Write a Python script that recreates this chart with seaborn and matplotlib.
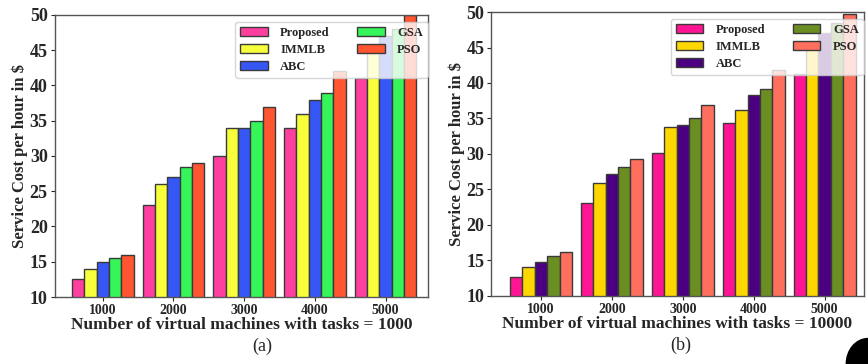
import matplotlib
matplotlib.use("Agg")
import matplotlib.pyplot as plt
import seaborn as sns
import pandas as pd
from matplotlib.patches import Ellipse

# ---- data ----
vms = ["1000", "2000", "3000", "4000", "5000"]
algos = ["Proposed", "IMMLB", "ABC", "GSA", "PSO"]

a_proposed = [12.5, 23.0, 30.0, 34.0, 41.0]
a_immlb = [14.0, 26.0, 34.0, 36.0, 44.8]
a_abc = [15.0, 27.0, 34.0, 38.0, 47.0]
a_gsa = [15.5, 28.4, 35.0, 39.0, 48.0]
a_pso = [16.0, 29.0, 37.0, 42.0, 50.0]

b_proposed = [12.7, 23.1, 30.2, 34.3, 41.2]
b_immlb = [14.1, 25.9, 33.8, 36.2, 44.9]
b_abc = [14.8, 27.2, 34.1, 38.3, 47.1]
b_gsa = [15.6, 28.2, 35.1, 39.1, 48.4]
b_pso = [16.2, 29.3, 36.9, 41.8, 49.7]

colors_a = ["#FF3FA0", "#F6FF3A", "#3657F5", "#35F55A", "#FF5530"]
colors_b = ["#FF1493", "#FFD700", "#4B0082", "#6B8E23", "#FF6F5E"]

xlabels = ["Number of virtual machines with tasks = 1000",
           "Number of virtual machines with tasks = 10000"]
panel_labels = ["(a)", "(b)"]


def long_df(series):
    rows = []
    for algo, vals in zip(algos, series):
        for vm, v in zip(vms, vals):
            rows.append({"vm": vm, "algo": algo, "cost": v})
    return pd.DataFrame(rows)


sns.set_style("ticks")
plt.rcParams["font.family"] = ["Liberation Serif", "DejaVu Serif"]
plt.rcParams["font.weight"] = "bold"

fig = plt.figure(figsize=(8.68, 3.64), dpi=100)
ax1 = fig.add_axes([0.063, 0.184, 0.430, 0.775])
ax2 = fig.add_axes([0.566, 0.187, 0.429, 0.780])

configs = [
    (ax1, [a_proposed, a_immlb, a_abc, a_gsa, a_pso], colors_a, (-0.68, 4.6), 0.555),
    (ax2, [b_proposed, b_immlb, b_abc, b_gsa, b_pso], colors_b, (-0.70, 4.55), 0.51),
]

for i, (ax, series, cols, xl, px) in enumerate(configs):
    df = long_df(series)
    sns.barplot(data=df, x="vm", y="cost", hue="algo", palette=cols,
                hue_order=algos, order=vms, width=0.875, saturation=1,
                edgecolor="#3a3a3a", linewidth=1.0, ax=ax, errorbar=None)
    ax.set_ylim(10, 50)
    ax.set_xlim(*xl)
    ax.set_yticks(range(10, 51, 5))
    for sp in ax.spines.values():
        sp.set_visible(True)
        sp.set_color("#555555")
        sp.set_linewidth(1.0)
    ax.tick_params(axis="y", labelsize=13, length=3, pad=2)
    ax.tick_params(axis="x", labelsize=10, length=3, pad=2)
    for t in ax.get_xticklabels() + ax.get_yticklabels():
        t.set_fontweight("bold")
    ax.set_ylabel("Service Cost per hour in $", fontsize=12, fontweight="bold",
                  labelpad=1)
    ax.set_xlabel(xlabels[i], fontsize=12.5, fontweight="bold", labelpad=0)
    ax.legend(ncol=2, loc="upper right", bbox_to_anchor=(1.0, 0.975),
              prop={"weight": "bold", "size": 9}, framealpha=0.8,
              handlelength=2.2, handleheight=0.75, handletextpad=1.0,
              columnspacing=2.2, borderaxespad=0.0, labelspacing=0.4,
              edgecolor="#cccccc", fancybox=True)
    ax.text(px, -0.145, panel_labels[i], transform=ax.transAxes,
            ha="center", va="top", fontsize=13, fontweight="normal")

# dark corner blob
fig.patches.append(Ellipse((1.0, 0.0), 0.05, 0.14, transform=fig.transFigure,
                           color="black", zorder=10))

fig.savefig("out.png", dpi=100)
